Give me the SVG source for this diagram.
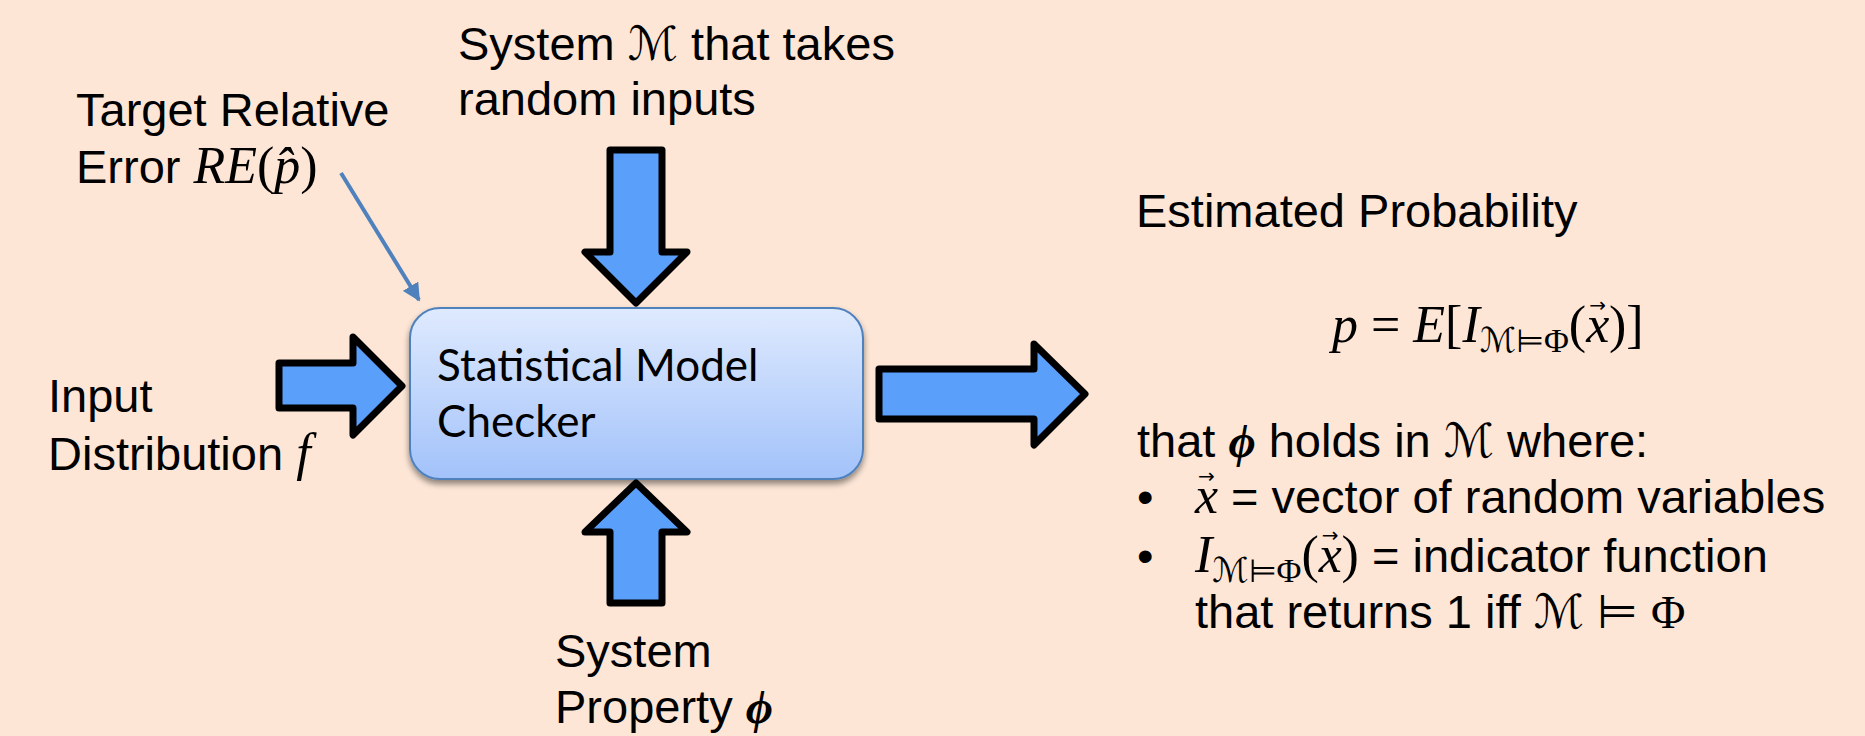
<svg xmlns="http://www.w3.org/2000/svg" width="1865" height="736" viewBox="0 0 1865 736">
<defs>
<style>
.lbl{font-family:"Liberation Sans",Arial,sans-serif;font-size:47px;fill:#000}
.m{font-family:"Liberation Serif","DejaVu Serif",serif;font-style:italic;font-size:52px}
.ar{font-family:"DejaVu Sans",sans-serif;font-style:normal;font-size:20px}
.sc{font-family:"DejaVu Serif","DejaVu Sans",serif;font-style:normal}
.sym{font-family:"DejaVu Sans",sans-serif;font-style:normal}
.up{font-family:"Liberation Serif","DejaVu Serif",serif;font-style:normal;font-size:52px}
.phi{font-family:"Liberation Serif","DejaVu Serif",serif;font-style:italic;font-weight:bold}
.big{fill:#5a9ffa;stroke:#000;stroke-width:7;stroke-linejoin:round}
.box-t{font-family:Lato,"Open Sans",sans-serif;font-size:44px;fill:#000}
</style>
<linearGradient id="boxg" x1="0" y1="0" x2="0" y2="1">
<stop offset="0" stop-color="#dfeafe"/>
<stop offset="1" stop-color="#a2c2fa"/>
</linearGradient>
<filter id="sh" x="-10%" y="-10%" width="120%" height="130%">
<feGaussianBlur in="SourceAlpha" stdDeviation="3"/>
<feOffset dx="0" dy="4" result="b"/>
<feComponentTransfer><feFuncA type="linear" slope="0.45"/></feComponentTransfer>
<feMerge><feMergeNode/><feMergeNode in="SourceGraphic"/></feMerge>
</filter>
<marker id="ah" viewBox="0 0 10 10" refX="9" refY="5" markerWidth="4.5" markerHeight="4.5" orient="auto" markerUnits="strokeWidth">
<path d="M0,0 L10,5 L0,10 z" fill="#4f81bd"/>
</marker>
</defs>
<rect width="1865" height="736" fill="#fde6d6"/>

<g id="checker">
<rect x="410" y="308" width="453" height="171" rx="30" ry="30" fill="url(#boxg)" stroke="#4f81bd" stroke-width="2" filter="url(#sh)"/>
<text class="box-t" x="437" y="381">Statistical Model</text>
<text class="box-t" x="437" y="437">Checker</text>
</g>

<g id="connectors">
<polygon class="big" points="610,150 662,150 662,252 687,252 636,303 585,252 610,252"/>
<polygon class="big" points="636,483 687,532 662,532 662,603 610,603 610,532 585,532"/>
<polygon class="big" points="279,363 353,363 353,337 402,386 353,435 353,408 279,408"/>
<polygon class="big" points="879,369 1034,369 1034,344 1085,394 1034,445 1034,419 879,419"/>
<line x1="341" y1="173" x2="419" y2="300" stroke="#4f81bd" stroke-width="4" marker-end="url(#ah)"/>
</g>

<g id="system-label">
<text class="lbl" x="458" y="60">System <tspan class="sc">ℳ</tspan> that takes</text>
<text class="lbl" x="458" y="115">random inputs</text>
</g>

<g id="error-label">
<text class="lbl" x="76" y="126">Target Relative</text>
<text class="lbl" x="76" y="183">Error <tspan class="m">RE</tspan><tspan class="up">(</tspan><tspan class="m">p̂</tspan><tspan class="up">)</tspan></text>
</g>

<g id="input-label">
<text class="lbl" x="48" y="412">Input</text>
<text class="lbl" x="48" y="470">Distribution <tspan class="m">f</tspan></text>
</g>

<g id="property-label">
<text class="lbl" x="555" y="667">System</text>
<text class="lbl" x="555" y="723">Property <tspan class="phi">ϕ</tspan></text>
</g>

<g id="output-label">
<text class="lbl" x="1136" y="227">Estimated Probability</text>
<text class="lbl" x="1332" y="342"><tspan class="m">p</tspan><tspan class="up"> = </tspan><tspan class="m">E</tspan><tspan class="up">[</tspan><tspan class="m">I</tspan><tspan class="sc" font-size="34" dy="10">ℳ</tspan><tspan class="sym" font-size="32">⊨</tspan><tspan class="up" style="font-size:34px">Φ</tspan><tspan class="up" dy="-10">(</tspan><tspan class="m">x</tspan><tspan class="ar" dx="-20" dy="-30">→</tspan><tspan class="up" dx="3" dy="30">)]</tspan></text>
<text class="lbl" x="1137" y="457">that <tspan class="phi">ϕ</tspan> holds in <tspan class="sc">ℳ</tspan> where:</text>
<text class="lbl" x="1137" y="513">•</text>
<text class="lbl" x="1195" y="513"><tspan class="m">x</tspan><tspan class="ar" dx="-20" dy="-30">→</tspan><tspan dx="3" dy="30"> = vector of random variables</tspan></text>
<text class="lbl" x="1137" y="572">•</text>
<text class="lbl" x="1195" y="572"><tspan class="m">I</tspan><tspan class="sc" font-size="34" dy="10">ℳ</tspan><tspan class="sym" font-size="32">⊨</tspan><tspan class="up" style="font-size:34px">Φ</tspan><tspan class="up" dy="-10">(</tspan><tspan class="m">x</tspan><tspan class="ar" dx="-20" dy="-30">→</tspan><tspan class="up" dx="3" dy="30">)</tspan> = indicator function</text>
<text class="lbl" x="1195" y="628">that returns 1 iff <tspan class="sc">ℳ</tspan> <tspan class="sym">⊨</tspan> <tspan class="up" style="font-size:47px">Φ</tspan></text>
</g>
</svg>
